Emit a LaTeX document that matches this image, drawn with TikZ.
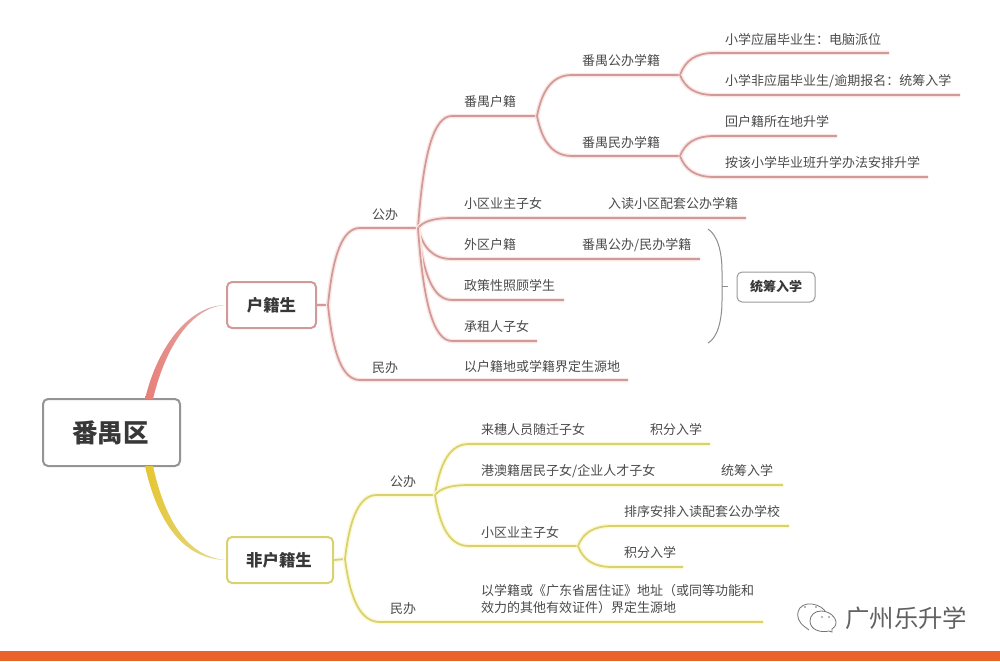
\documentclass[tikz,border=0pt]{standalone}
\usepackage{fontspec}
\setmainfont{Noto Sans CJK SC}
\usetikzlibrary{calc}
\definecolor{redline}{HTML}{CF9A97}
\definecolor{redglow}{HTML}{FBE6E4}
\definecolor{yelline}{HTML}{D9D170}
\definecolor{yelglow}{HTML}{FBF8D2}
\definecolor{txt}{HTML}{4A4A4A}
\definecolor{barc}{HTML}{E9632B}
\tikzset{
  redwire/.style={draw=redline,line width=1.7pt,preaction={draw=redglow,line width=4.5pt}},
  yelwire/.style={draw=yelline,line width=1.7pt,preaction={draw=yelglow,line width=4.5pt}},
  lab/.style={anchor=west,inner sep=0pt,text=txt,font=\fontsize{13}{16}\selectfont,text height=11pt,text depth=2pt},
  lab2/.style={anchor=north west,inner sep=0pt,text=txt,align=left,font=\fontsize{13}{17}\selectfont},
  rootbox/.style={draw=black!42,line width=2pt,rounded corners=5pt,fill=white,minimum width=137pt,minimum height=67pt,inner sep=0pt,text=black!78,font=\fontsize{25.5}{28}\selectfont\bfseries},
  redbox/.style={draw=redline,line width=2pt,rounded corners=5pt,fill=white,minimum height=46pt,inner sep=0pt,text=black!78,font=\fontsize{16.4}{20}\selectfont\bfseries},
  yelbox/.style={draw=yelline,line width=2pt,rounded corners=5pt,fill=white,minimum height=46pt,inner sep=0pt,text=black!78,font=\fontsize{16.4}{20}\selectfont\bfseries},
  sumbox/.style={draw=black!40,line width=1pt,rounded corners=5pt,fill=white,minimum width=78pt,minimum height=30pt,inner sep=0pt,text=black!78,font=\fontsize{13}{16}\selectfont\bfseries},
}
\newcommand\wire[4]{\draw[#1] (#2) .. controls ($.35*(#2)+.15*(#3)+.5*(#2|-#3)$) and ($(#3)!.55!(#2|-#3)$) .. (#3) -- (#4);}
\begin{document}
\begin{tikzpicture}[x=1pt,y=-1pt]
\useasboundingbox (0,0) rectangle (1000,661);
% junctions and line ends
\foreach \n/\x/\y in {
 ja/328/305, jb/418/228, jc/537/116, jd/680/75, je/680/156,
 a1/360/228, a2/418/228, b1/360/380, b2/628/380,
 c1/452/116, c2/537/116, d1/572/75, d2/680/75, e1/572/156, e2/680/156,
 f1/714/53, f2/889/53, g1/714/95, g2/960/95, h1/714/136, h2/837/136, i1/714/177, i2/928/177,
 k1/452/218, k2/746/218, l1/452/259, l2/700/259, m1/452/300, m2/564/300, n1/452/341, n2/537/341,
 ya/345/559, yb/435/495, yc/578/546,
 p1/377/495, p2/435/495, q1/380/622, q2/763/622,
 r1/469/444, r2/710/444, s1/469/485, s2/783/485, t1/469/546, t2/578/546,
 u1/612/526, u2/789/526, v1/612/567, v2/683/567,
 br1/708/229, br2/708/343, br3/722/286}
 {\coordinate (\n) at (\x,\y);}
% nodes
\node[rootbox] (root) at (111.5,432.5) {\hspace*{-2pt}番禺区};
\node[redbox,minimum width=89pt] (hj) at (271.5,305) {户籍生};
\node[yelbox,minimum width=106pt] (fhj) at (280,560) {\hspace*{-2pt}非户籍生};
\node[sumbox] (sum) at (776,287) {统筹入学};
% root connectors (tapered)
\coordinate (rt1) at (145,399); \coordinate (rt2) at (153,399);
\coordinate (rb1) at (145,466); \coordinate (rb2) at (153,466);
\definecolor{redA}{HTML}{E87E78}
\definecolor{redB}{HTML}{E8A29C}
\definecolor{redC}{HTML}{DDB9B6}
\definecolor{yelA}{HTML}{E6C530}
\definecolor{yelB}{HTML}{E3CC52}
\definecolor{yelC}{HTML}{E2DE9E}
\shade[left color=redA,middle color=redB,right color=redC]
  (rt1) .. controls (158,345) and (190,305) .. (hj.west) .. controls (192,307) and (166,345) .. (rt2) -- cycle;
\shade[left color=yelA,middle color=yelB,right color=yelC]
  (rb1) .. controls (158,525) and (185,559.5) .. (fhj.west) .. controls (190,557) and (166,525) .. (rb2) -- cycle;
% red tree
\draw[redwire] (hj.east) -- (ja);
\wire{redwire}{ja}{a1}{a2}
\wire{redwire}{ja}{b1}{b2}
\wire{redwire}{jb}{c1}{c2}
\wire{redwire}{jb}{k1}{k2}
\wire{redwire}{jb}{l1}{l2}
\wire{redwire}{jb}{m1}{m2}
\wire{redwire}{jb}{n1}{n2}
\wire{redwire}{jc}{d1}{d2}
\wire{redwire}{jc}{e1}{e2}
\wire{redwire}{jd}{f1}{f2}
\wire{redwire}{jd}{g1}{g2}
\wire{redwire}{je}{h1}{h2}
\wire{redwire}{je}{i1}{i2}
% yellow tree
\draw[yelwire] (fhj.east) -- (ya);
\wire{yelwire}{ya}{p1}{p2}
\wire{yelwire}{ya}{q1}{q2}
\wire{yelwire}{yb}{r1}{r2}
\wire{yelwire}{yb}{s1}{s2}
\wire{yelwire}{yb}{t1}{t2}
\wire{yelwire}{yc}{u1}{u2}
\wire{yelwire}{yc}{v1}{v2}
% brace
\draw[black!45,line width=1pt] (br1) .. controls (717,235) and (722,250) .. (722,272) -- (br3)
  -- (722,300) .. controls (722,322) and (717,338) .. (br2);
\draw[black!45,line width=1pt] (br3) -- (728,286);
% labels
\node[lab] (t01) at (372,215) {公办};
\node[lab] (t02) at (372,368) {民办};
\node[lab] (t03) at (464,102) {番禺户籍};
\node[lab] (t04) at (582,61) {番禺公办学籍};
\node[lab] (t05) at (582,143) {番禺民办学籍};
\node[lab] (t06) at (725,40) {小学应届毕业生：电脑派位};
\node[lab] (t07) at (725,81) {小学非应届毕业生/逾期报名：统筹入学};
\node[lab] (t08) at (725,122) {回户籍所在地升学};
\node[lab] (t09) at (725,163) {按该小学毕业班升学办法安排升学};
\node[lab] (t10) at (464,204) {小区业主子女};
\node[lab] (t11) at (608,204) {入读小区配套公办学籍};
\node[lab] (t12) at (464,245) {外区户籍};
\node[lab] (t13) at (582,245) {番禺公办/民办学籍};
\node[lab] (t14) at (464,286) {政策性照顾学生};
\node[lab] (t15) at (464,327) {承租人子女};
\node[lab] (t16) at (464,367) {以户籍地或学籍界定生源地};
\node[lab] (t17) at (390,482) {公办};
\node[lab] (t18) at (390,609) {民办};
\node[lab] (t19) at (481,430) {来穗人员随迁子女};
\node[lab] (t20) at (650,430) {积分入学};
\node[lab] (t21) at (481,471) {港澳籍居民子女/企业人才子女};
\node[lab] (t22) at (721,471) {统筹入学};
\node[lab] (t23) at (481,533) {小区业主子女};
\node[lab] (t24) at (624,512) {排序安排入读配套公办学校};
\node[lab] (t25) at (624,553) {积分入学};
\node[lab2] (t26) at (481,584) {以学籍或《广东省居住证》地址（或同等功能和\\效力的其他有效证件）界定生源地};
% watermark
\draw[black!55,line width=.8pt,fill=white] (809,630) -- (805,627) .. controls (798,622) and (797,616) .. (798,612)
  .. controls (799,606) and (806,603) .. (812,604) .. controls (819,605) and (825,609) .. (826,613);
\draw[black!55,line width=.8pt,fill=white] (821,611) .. controls (829,611) and (836,617) .. (836,622)
  .. controls (836,626) and (834,628) .. (832,629) -- (832,632) -- (829,631)
  .. controls (821,633) and (810,630) .. (810,621) .. controls (810,615) and (815,611) .. (821,611) -- cycle;
\foreach \ex/\ey in {805/607,816/607,822/617,829/617}
  \fill[black!55] (\ex,\ey) circle[radius=.8];
\node[anchor=west,inner sep=0pt,text=black!62,font=\fontsize{24.4}{28}\selectfont] (wm) at (845,618) {广州乐升学};
\fill[barc] (0,651) rectangle (1000,661);
\end{tikzpicture}
\end{document}
